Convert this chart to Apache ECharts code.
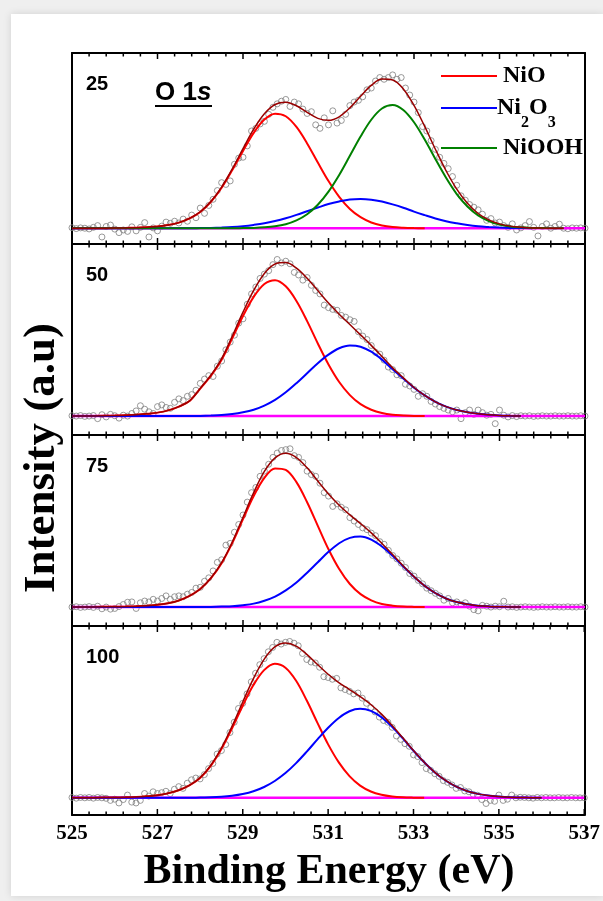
<!DOCTYPE html>
<html><head><meta charset="utf-8">
<script src="https://cdn.jsdelivr.net/npm/echarts@6/dist/echarts.min.js"></script>
<style>
html,body{margin:0;padding:0;width:603px;height:901px;background:#efefef;overflow:hidden}
#card{position:absolute;left:11px;top:14px;width:592px;height:882px;background:#fff;box-shadow:0 0 8px rgba(0,0,0,0.12)}
#chart{position:absolute;left:0;top:0;width:603px;height:901px}
</style></head><body><div id="card"></div><div id="chart"></div>
<script>
// ---------- data ----------
const circleX = [
525,525.1,525.2,525.3,525.4,525.5,525.6,525.7,525.8,525.9,
526,526.1,526.2,526.3,526.4,526.5,526.6,526.7,526.8,526.9,
527,527.1,527.2,527.3,527.4,527.5,527.6,527.7,527.8,527.9,
528,528.1,528.2,528.3,528.4,528.5,528.6,528.7,528.8,528.9,
529,529.1,529.2,529.3,529.4,529.5,529.6,529.7,529.8,529.9,
530,530.1,530.2,530.3,530.4,530.5,530.6,530.7,530.8,530.9,
531,531.1,531.2,531.3,531.4,531.5,531.6,531.7,531.8,531.9,
532,532.1,532.2,532.3,532.4,532.5,532.6,532.7,532.8,532.9,
533,533.1,533.2,533.3,533.4,533.5,533.6,533.7,533.8,533.9,
534,534.1,534.2,534.3,534.4,534.5,534.6,534.7,534.8,534.9,
535,535.1,535.2,535.3,535.4,535.5,535.6,535.7,535.8,535.9,
536,536.1,536.2,536.3,536.4,536.5,536.6,536.7,536.8,536.9,
537];
const lineX = [525,525.5,526,526.25,526.5,526.75,527,527.25,527.5,527.75,528,528.25,528.5,528.75,529,529.25,529.5,529.75,530,530.25,530.5,530.75,531,531.25,531.5,531.75,532,532.25,532.5,532.75,533,533.25,533.5,533.75,534,534.25,534.5,534.75,535,535.25,535.5,535.75,536,536.5,537];
const xTickLabels = ['525','527','529','531','533','535','537'];
const majorTickValues = [525,527,529,531,533,535,537];
const minorTickValues = [525.4,525.8,526.2,526.6,527.4,527.8,528.2,528.6,529.4,529.8,530.2,530.6,531.4,531.8,532.2,532.6,533.4,533.8,534.2,534.6,535.4,535.8,536.2,536.6];
const panelLabels = ['25','50','75','100'];
const legendNames = ['NiO','Ni2O3','NiOOH'];

const circles25 = [0.3,-0.2,0.2,0.0,-0.4,0.5,1.5,-5.0,1.0,1.8,
-0.5,-2.5,-1.0,-1.8,0.8,-1.5,0.5,3.2,-5.0,0.2,
-1.5,1.2,3.5,2.8,4.0,3.0,5.2,4.0,7.5,6.0,
11.5,8.5,13.0,16.5,21.5,26.0,25.0,27.0,36.5,40.0,
40.5,47.0,55.5,57.0,59.5,61.0,65.0,69.0,71.0,72.5,
73.5,69.5,72.0,71.0,68.0,65.5,66.5,59.0,57.0,63.0,
59.0,67.0,60.0,61.5,65.0,70.0,72.0,73.0,75.0,79.0,
80.0,84.0,86.0,85.0,86.0,87.5,85.0,86.0,80.0,76.0,
72.0,66.0,58.0,55.5,50.0,45.0,40.5,37.0,34.0,29.5,
24.5,18.5,16.0,13.5,12.0,10.5,8.0,4.5,5.5,3.0,
3.5,1.5,0.5,2.5,-1.0,0.2,1.5,3.8,0.5,-4.4,
1.0,2.5,0.0,1.0,2.3,0.0,-0.3,0.2,0.0,0.2,
0.0];
const circles50 = [0.2,0.0,0.3,-0.2,0.0,0.3,-1.5,0.8,-0.5,1.0,
0.2,-1.2,0.5,0.0,1.5,3.0,6.0,4.0,2.5,1.5,
5.5,6.5,5.0,4.5,8.0,10.0,9.0,11.5,12.5,15.0,
19.0,21.5,23.5,23.0,29.0,32.0,38.5,43.0,47.0,54.0,
56.5,65.0,71.0,75.0,80.0,82.5,84.5,88.0,91.0,89.0,
90.0,88.5,83.5,82.0,79.0,80.5,76.0,73.0,71.0,64.5,
63.0,62.0,61.5,58.5,57.5,56.0,55.0,49.0,46.5,44.5,
41.0,37.0,36.0,32.5,28.5,27.0,24.0,23.5,18.5,17.5,
15.5,11.5,13.0,11.5,8.5,7.0,5.5,4.5,3.5,2.5,
3.5,-1.5,2.0,3.5,1.0,3.5,2.0,0.5,1.0,-4.4,
3.5,0.5,-0.5,0.3,-0.3,0.2,0.0,0.2,-0.2,0.0,
0.2,0.0,0.0,0.2,0.0,0.0,0.2,0.0,0.0,0.2,
0.0];
const circles75 = [0.0,0.2,-0.2,0.0,0.3,-0.2,0.5,-1.0,0.0,-1.2,
-0.8,0.3,1.5,2.8,3.0,-0.8,2.5,3.5,3.0,4.5,
3.5,5.0,6.5,4.5,6.0,6.5,6.0,7.5,8.5,11.0,
11.5,15.0,17.0,21.0,26.0,27.5,36.0,37.0,43.5,48.0,
53.5,61.0,66.5,69.5,76.0,79.0,83.0,87.0,89.5,91.0,
91.5,92.0,88.0,87.0,84.0,79.0,77.0,76.0,72.0,66.5,
64.5,58.5,60.0,58.0,56.5,52.0,50.0,48.0,46.0,45.0,
43.0,41.5,38.0,36.5,33.0,30.0,28.0,25.5,23.0,19.5,
18.0,15.5,13.5,11.0,9.5,8.0,6.5,4.0,5.0,2.5,
3.0,1.5,2.5,0.5,-1.5,-2.2,1.0,0.5,0.0,0.5,
0.2,3.4,0.0,0.2,-0.2,0.0,0.2,0.0,-0.2,0.0,
0.2,0.0,0.0,0.2,0.0,0.0,0.2,0.0,0.0,0.2,
0.0];
const circles100 = [0.2,-0.2,0.2,0.0,0.2,-0.2,0.2,0.0,-0.3,-1.5,
-0.8,-3.0,-1.0,1.6,-2.5,-3.0,-1.5,2.5,1.0,3.5,
2.5,3.0,3.8,2.5,5.0,6.5,5.5,8.5,10.5,11.5,
11.0,13.5,17.0,20.0,25.5,27.5,31.0,38.0,44.0,52.0,
55.0,60.5,67.5,72.5,77.5,81.0,85.0,87.5,90.5,89.5,
90.5,91.0,90.0,88.5,84.0,80.5,79.0,78.5,76.0,70.5,
70.0,69.0,69.5,64.0,63.0,62.0,60.5,61.0,58.0,55.0,
52.5,50.0,47.0,45.0,44.0,41.0,36.0,34.0,31.5,30.0,
25.0,24.0,20.5,17.0,16.0,14.0,12.5,10.0,9.0,7.5,
5.5,6.0,4.0,3.5,2.0,1.5,-1.0,-3.3,-1.5,-2.0,
1.6,-1.5,-0.8,1.6,0.0,0.3,0.2,0.0,-0.2,0.2,
0.0,0.2,0.0,0.0,0.2,0.0,0.0,0.2,0.0,0.0,
0.0];

const nio25 = [0,0,0.1,0.2,0.3,0.6,1.0,1.8,3.2,5.6,9.3,15.1,23.1,33.2,44.1,54.4,62.0,65.4,63.9,57.8,48.4,37.5,26.9,17.9,11.0,6.3,3.3,1.6,0.7,0.3,0.1,0,null,null,null,null,null,null,null,null,null,null,null,null,null];
const ni2o3_25 = [0,0,0,0,0,0,0,0,0,0,0.1,0.2,0.4,0.7,1.2,1.9,2.8,4.1,5.7,7.6,9.7,11.8,13.8,15.3,16.4,16.7,16.3,15.2,13.6,11.7,9.5,7.5,5.6,4.0,2.8,1.8,1.1,0.7,0.4,0.2,0.1,0,null,null,null];
const niooh25 = [0,0,0,0,0,0,0,0,0,0,0,0,0,0,0.1,0.2,0.5,1.1,2.3,4.5,8.0,13.4,20.9,30.4,41.3,52.3,61.9,68.3,70.3,67.5,60.5,50.6,39.5,28.8,19.5,12.4,7.3,4.1,2.1,1.0,0.5,0.2,0.1,0,null];
const fit25 = [0,0,0.1,0.2,0.3,0.6,1.0,1.8,3.2,5.6,9.4,15.3,23.5,33.9,45.4,56.5,65.3,70.6,71.9,69.9,66.1,62.7,61.6,63.6,68.7,75.3,81.5,85.1,84.6,79.5,70.1,58.1,45.1,32.8,22.3,14.2,8.4,4.8,2.5,1.2,0.6,0.2,0.1,0,null];

const nio50 = [0,0.1,0.3,0.5,0.8,1.3,2.0,3.3,5.5,8.8,16.0,23.5,32.8,45.3,58.2,69.3,76.8,79.0,75.4,66.9,55.2,42.2,30.0,19.8,12.2,6.9,3.7,1.8,0.8,0.4,0.1,0,null,null,null,null,null,null,null,null,null,null,null,null,null];
const ni2o3_50 = [0,0,0,0,0,0,0,0,0,0,0.1,0.3,0.6,1.2,2.2,3.7,6.1,9.4,13.8,19.1,24.9,30.7,35.7,39.4,41.0,40.3,37.4,32.8,27.2,21.8,16.5,12.0,8.3,5.5,3.5,2.2,1.3,0.7,0.35,0.15,0,null,null,null,null];
const fit50 = [0,0.1,0.3,0.5,0.8,1.3,2.0,3.3,5.5,8.8,16.1,23.8,33.4,46.5,60.4,73.0,82.9,88.4,89.2,86.0,80.1,72.9,65.7,59.2,53.2,47.2,41.1,34.6,28.0,22.2,16.6,12.0,8.3,5.5,3.5,2.2,1.3,0.7,0.35,0.15,0,null,null,null,null];

const nio75 = [0,0.1,0.2,0.3,0.5,0.8,1.3,2.2,3.8,6.5,10.5,16.8,25.5,37.3,51.1,64.5,75.1,80.6,79.7,72.6,60.9,47.2,33.6,22.1,13.4,7.5,3.9,1.8,0.8,0.3,0.1,0,null,null,null,null,null,null,null,null,null,null,null,null,null];
const ni2o3_75 = [0,0,0,0,0,0,0,0,0,0,0,0.1,0.3,0.5,1.1,2.0,3.7,6.1,9.7,14.3,20.0,26.1,32.1,37.1,40.2,41.0,39.2,35.2,29.8,23.6,17.6,12.3,8.1,5.0,2.9,1.6,0.8,0.4,0.2,0.1,0,null,null,null,null];
const fit75 = [0,0.1,0.2,0.3,0.5,0.8,1.3,2.2,3.8,6.5,10.5,16.9,25.8,37.8,52.2,66.5,78.8,86.7,89.4,86.9,80.9,73.3,65.7,59.2,53.6,48.5,43.1,37.0,30.6,23.9,17.7,12.3,8.1,5.0,2.9,1.6,0.8,0.4,0.2,0.1,0,null,null,null,null];

const nio100 = [0,0.1,0.2,0.3,0.5,0.9,1.5,2.6,4.4,7.2,11.5,18.6,28.4,40.5,53.6,65.6,74.3,78.0,75.7,68.1,56.6,43.6,31.1,20.6,12.6,7.1,3.7,1.8,0.8,0.3,0.1,0,null,null,null,null,null,null,null,null,null,null,null,null,null];
const ni2o3_100 = [0,0,0,0,0,0,0,0,0,0,0.2,0.3,0.6,1.2,2.2,3.8,6.3,9.8,14.4,20.2,26.9,34.0,40.8,46.5,50.4,51.8,50.6,46.9,41.3,34.6,27.4,20.7,14.8,10.1,6.5,4.0,2.3,1.3,0.7,0.3,0.2,0.1,0,null,null];
const fit100 = [0,0.1,0.2,0.3,0.5,0.9,1.5,2.6,4.4,7.2,11.7,18.9,29.0,41.7,55.8,69.4,80.6,87.8,90.1,88.3,83.5,77.6,71.9,67.1,63.0,58.9,54.3,48.7,42.1,34.9,27.5,20.7,14.8,10.1,6.5,4.0,2.3,1.3,0.7,0.3,0.2,0.1,0,null,null];

const baselineX = [525, 537];
const baselineY = [0, 0];

// ---------- layout ----------
const panelTops = [53, 244, 435, 626];
const panelHeights = [191, 191, 191, 189];
const yMins = [-9, -11, -11, -10];
const YMAX = 100;
const PL = 72, PW = 513;
const COL = {NiO:'#ff0000', Ni2O3:'#0000ff', NiOOH:'#008000', fit:'#990000', base:'#ff00ff'};
const SERIF = '"Liberation Serif","Times New Roman",serif';
const SANS = '"Liberation Sans",Arial,sans-serif';

const panels = [
  {circles:circles25, comps:[['NiO',nio25],['Ni2O3',ni2o3_25],['NiOOH',niooh25]], fit:fit25},
  {circles:circles50, comps:[['NiO',nio50],['Ni2O3',ni2o3_50]], fit:fit50},
  {circles:circles75, comps:[['NiO',nio75],['Ni2O3',ni2o3_75]], fit:fit75},
  {circles:circles100, comps:[['NiO',nio100],['Ni2O3',ni2o3_100]], fit:fit100}
];

const grid = panelTops.map((t,i)=>({left:PL, width:PW, top:t, height:panelHeights[i], show:false}));
const xAxis = [];
const yAxis = [];
const mainX = [];
panelTops.forEach((t,i)=>{
  const frameY = 2*i+1;
  ['bottom','top'].forEach(pos=>{
    const showLab = (pos==='bottom' && i===3);
    if (pos==='bottom') mainX.push(xAxis.length);
    xAxis.push({type:'value', gridIndex:i, position:pos, min:525, max:537, interval:2,
      axisLine:{show:true, onZeroAxisIndex:frameY, lineStyle:{color:'#000', width:2}},
      axisTick:{show:false},
      splitLine:{show:false},
      axisLabel:{show:showLab, margin:8, color:'#000', fontFamily:SERIF, fontWeight:'bold', fontSize:21,
        formatter:(v)=>{const s=String(Math.round(v)); return xTickLabels.indexOf(s)>=0?s:'';}}
    });
  });
  yAxis.push({type:'value', gridIndex:i, position:'left', min:yMins[i], max:YMAX,
    axisLine:{show:true, onZero:false, lineStyle:{color:'#000', width:2}}, axisTick:{show:false}, axisLabel:{show:false}, splitLine:{show:false}});
  yAxis.push({type:'value', gridIndex:i, position:'right', min:1, max:2,
    axisLine:{show:true, onZero:false, lineStyle:{color:'#000', width:2}}, axisTick:{show:false}, axisLabel:{show:false}, splitLine:{show:false}});
});

const tickData = majorTickValues.map(v=>[v,1]).concat(minorTickValues.map(v=>[v,0]));

const series = [];
panels.forEach((p,i)=>{
  const xa = mainX[i], ya = 2*i;
  series.push({type:'scatter', xAxisIndex:xa, yAxisIndex:ya, silent:true, z:1,
    data:circleX.map((x,k)=>[x,p.circles[k]]), symbol:'circle', symbolSize:6,
    itemStyle:{color:'rgba(255,255,255,0)', borderColor:'#808080', borderWidth:1}});
  series.push({type:'line', xAxisIndex:xa, yAxisIndex:ya, silent:true, z:3, showSymbol:false,
    data:baselineX.map((x,k)=>[x,baselineY[k]]), lineStyle:{color:COL.base, width:2.5}});
  p.comps.forEach(([nm,ys])=>{
    series.push({type:'line', name:nm, xAxisIndex:xa, yAxisIndex:ya, silent:true, z:4, showSymbol:false, smooth:0.35,
      data:lineX.map((x,k)=>[x,ys[k]]), lineStyle:{color:COL[nm], width:2}, itemStyle:{color:COL[nm]}});
  });
  series.push({type:'line', xAxisIndex:xa, yAxisIndex:ya, silent:true, z:5, showSymbol:false, smooth:0.35,
    data:lineX.map((x,k)=>[x,p.fit[k]]), lineStyle:{color:COL.fit, width:1.5}});
  // inward ticks on the bottom and top frame of the panel, placed through the panel's x scale
  series.push({type:'custom', xAxisIndex:xa, yAxisIndex:ya, silent:true, z:6, clip:false,
    data:tickData,
    renderItem:(params, api)=>{
      const v = api.value(0), major = api.value(1) === 1;
      const len = major ? 6 : 3.5;
      const pb = api.coord([v, yMins[i]]);
      const pt = api.coord([v, YMAX]);
      return {type:'group', children:[
        {type:'line', shape:{x1:pb[0], y1:pb[1], x2:pb[0], y2:pb[1]-len}, style:{stroke:'#000', lineWidth:1.5}},
        {type:'line', shape:{x1:pt[0], y1:pt[1], x2:pt[0], y2:pt[1]+len}, style:{stroke:'#000', lineWidth:1.5}}
      ]};
    }});
});

const graphic = [];
panelLabels.forEach((lab,i)=>{
  graphic.push({type:'text', x:86, y:panelTops[i]+31, z:10,
    style:{text:lab, font:'bold 20px '+SANS, fill:'#000', verticalAlign:'middle', align:'left'}});
});
graphic.push({type:'text', x:155, y:93, z:10, style:{text:'{a|O 1}{b|s}', verticalAlign:'middle', align:'left', fill:'#000',
  rich:{a:{fontFamily:SANS, fontWeight:'bold', fontSize:26, fill:'#000'}, b:{fontFamily:SANS, fontWeight:'bold', fontStyle:'italic', fontSize:26, fill:'#000'}}}});
graphic.push({type:'line', z:10, shape:{x1:155, y1:106, x2:212, y2:106}, style:{stroke:'#000', lineWidth:2}});
// legend
const legY = [76, 108, 148];
legendNames.forEach((nm,k)=>{
  graphic.push({type:'line', z:10, shape:{x1:441, y1:legY[k], x2:497, y2:legY[k]}, style:{stroke:COL[nm], lineWidth:2}});
});
graphic.push({type:'text', x:503, y:legY[0], z:10, style:{text:'NiO', font:'bold 24px '+SERIF, fill:'#000', verticalAlign:'middle'}});
graphic.push({type:'text', x:497, y:legY[1], z:10, style:{text:'{n|Ni}{s|2}{n|O}{s|3}', verticalAlign:'middle', fill:'#000',
  rich:{n:{fontFamily:SERIF, fontWeight:'bold', fontSize:24, lineHeight:46, verticalAlign:'middle', fill:'#000'},
        s:{fontFamily:SERIF, fontWeight:'bold', fontSize:16, lineHeight:16, verticalAlign:'bottom', fill:'#000'}}}});
graphic.push({type:'text', x:503, y:legY[2], z:10, style:{text:'NiOOH', font:'bold 24px '+SERIF, fill:'#000', verticalAlign:'middle'}});
// axis titles
graphic.push({type:'text', x:42, y:458, rotation:Math.PI/2, z:10, style:{text:'Intensity (a.u)', font:'bold 45px '+SERIF, fill:'#000', align:'center', verticalAlign:'middle'}});
graphic.push({type:'text', x:329, y:872, z:10, style:{text:'Binding Energy (eV)', font:'bold 42px '+SERIF, fill:'#000', align:'center', verticalAlign:'middle'}});

const chart = echarts.init(document.getElementById('chart'), null, {renderer:'canvas'});
chart.setOption({animation:false, backgroundColor:'rgba(0,0,0,0)', grid, xAxis, yAxis, series, graphic});
</script></body></html>
